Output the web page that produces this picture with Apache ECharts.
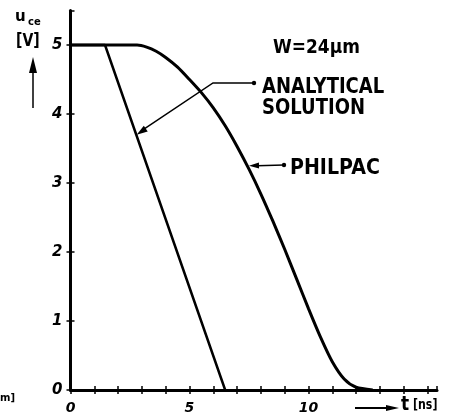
<!DOCTYPE html>
<html>
<head>
<meta charset="utf-8">
<script src="https://cdn.jsdelivr.net/npm/echarts@6/dist/echarts.min.js"></script>
<style>
  html, body { margin: 0; padding: 0; background: #fff; }
  #chart { width: 453px; height: 420px; }
</style>
</head>
<body>
<div id="chart"></div>
<script>
// Collector-emitter voltage during turn-off, W = 24 um
const xTickLabels = ['0', '5', '10'];
const yTickLabels = ['0', '1', '2', '3', '4', '5'];

// Analytical solution: t [ns], u_ce [V]
const analyticalT = [0, 1.45, 6.5];
const analyticalU = [5, 5, 0];

// PHILPAC simulation: t [ns], u_ce [V]
const philpacT = [0, 2.8, 3.2, 3.6, 4.0, 4.5, 5.0, 5.5, 6.0, 6.5, 7.0, 7.5, 8.0, 8.5, 9.0, 9.5, 10.0, 10.5, 11.0, 11.5, 12.0, 12.7];
const philpacU = [5, 5, 4.97, 4.91, 4.82, 4.68, 4.50, 4.31, 4.09, 3.83, 3.53, 3.20, 2.84, 2.45, 2.04, 1.61, 1.18, 0.77, 0.41, 0.16, 0.04, 0];

const zip = (a, b) => a.map((v, i) => [v, b[i]]);

const chart = echarts.init(document.getElementById('chart'), null, { renderer: 'canvas' });

const FONT = '"DejaVu Sans", "Liberation Sans", sans-serif';
const axisLabelStyle = {
  color: '#000', fontFamily: FONT, fontWeight: 'bold', fontStyle: 'italic', fontSize: 14
};

chart.setOption({
  backgroundColor: '#fff',
  animation: false,
  grid: { left: 70.5, right: 16, top: 10.5, bottom: 30 },
  xAxis: [{
    type: 'value', min: 0, max: 15.4, interval: 1,
    axisLine: { lineStyle: { color: '#000', width: 3 } },
    axisTick: { show: true, length: 4, lineStyle: { color: '#000', width: 1.5 } },
    splitLine: { show: false },
    axisLabel: Object.assign({
      margin: 11, showMaxLabel: false,
      formatter: v => (v % 5 === 0 ? xTickLabels[v / 5] : '')
    }, axisLabelStyle)
  }, {
    type: 'value', min: 0, max: 15.4, interval: 1, position: 'bottom',
    axisLine: { show: false },
    axisTick: { show: true, inside: true, length: 4, lineStyle: { color: '#000', width: 1.5 } },
    axisLabel: { show: false }, splitLine: { show: false }
  }],
  yAxis: [{
    type: 'value', min: 0, max: 5.5, interval: 1,
    axisLine: { show: true, lineStyle: { color: '#000', width: 3 } },
    axisTick: { show: true, length: 4, lineStyle: { color: '#000', width: 1.5 } },
    splitLine: { show: false },
    axisLabel: Object.assign({
      margin: 8, showMaxLabel: false,
      formatter: v => yTickLabels[v] || ''
    }, axisLabelStyle, { fontSize: 15 })
  }, {
    type: 'value', min: 0, max: 5.5, interval: 1, position: 'left',
    axisLine: { show: false },
    axisTick: { show: true, inside: true, length: 4, lineStyle: { color: '#000', width: 1.5 } },
    axisLabel: { show: false }, splitLine: { show: false }
  }],
  series: [{
    name: 'ANALYTICAL SOLUTION', type: 'line', data: zip(analyticalT, analyticalU),
    symbol: 'none', lineStyle: { color: '#000', width: 2.5 }, z: 3
  }, {
    name: 'PHILPAC', type: 'line', data: zip(philpacT, philpacU),
    smooth: 0.25, symbol: 'none', lineStyle: { color: '#000', width: 3 }, z: 3
  }]
});

// Filled arrowhead pointing from (x0,y0) toward (x1,y1), tip at (x1,y1)
function arrowHead(x0, y0, x1, y1, len, half) {
  const dx = x1 - x0, dy = y1 - y0, d = Math.hypot(dx, dy);
  const ux = dx / d, uy = dy / d;
  const bx = x1 - ux * len, by = y1 - uy * len;
  return {
    type: 'polygon',
    shape: { points: [[x1, y1], [bx - uy * half, by + ux * half], [bx + uy * half, by - ux * half]] },
    style: { fill: '#000' }
  };
}
function dot(x, y) {
  return { type: 'circle', shape: { cx: x, cy: y, r: 2.2 }, style: { fill: '#000' } };
}
function label(text, x, y, size, sy) {
  return {
    type: 'text', x: x, y: y, scaleY: sy || 1,
    style: { text: text, fill: '#000', font: 'bold ' + size + 'px ' + FONT, textVerticalAlign: 'top' }
  };
}

// Arrow tips sit on the curves
const aTip = chart.convertToPixel({ gridIndex: 0 }, [2.78, 3.7]);
const pTip = chart.convertToPixel({ gridIndex: 0 }, [7.5, 3.25]);

chart.setOption({
  graphic: [
    // axis titles
    label('u', 15, 10, 15, 1),
    label('ce', 28, 17, 10, 1),
    label('[V]', 16, 33, 14, 1.2),
    { type: 'line', shape: { x1: 33, y1: 108, x2: 33, y2: 70 }, style: { stroke: '#000', lineWidth: 1.5 } },
    arrowHead(33, 108, 33, 57, 16, 4),
    { type: 'line', shape: { x1: 355, y1: 408, x2: 388, y2: 408 }, style: { stroke: '#000', lineWidth: 2 } },
    arrowHead(355, 408, 399, 408, 13, 3),
    label('t', 401, 396, 17, 1.1),
    label('[ns]', 413, 399, 11, 1.2),
    label('m]', 0, 393, 10, 1),

    // parameter
    label('W=24\u03bcm', 273, 39, 17, 1.1),

    // analytical solution annotation
    label('ANALYTICAL', 262, 77, 18, 1.15),
    label('SOLUTION', 262, 98, 18, 1.15),
    dot(254, 83),
    { type: 'polyline', shape: { points: [[254, 83], [213, 83], [aTip[0] + 8, aTip[1] - 6]] },
      style: { stroke: '#000', lineWidth: 1.5, fill: null } },
    arrowHead(213, 83, aTip[0], aTip[1], 11, 3.5),

    // PHILPAC annotation
    label('PHILPAC', 290, 158, 19, 1.1),
    dot(284, 165),
    { type: 'line', shape: { x1: 284, y1: 165, x2: pTip[0] + 8, y2: pTip[1] },
      style: { stroke: '#000', lineWidth: 1.5 } },
    arrowHead(284, 165, pTip[0], pTip[1], 10, 3)
  ]
});
</script>
</body>
</html>
